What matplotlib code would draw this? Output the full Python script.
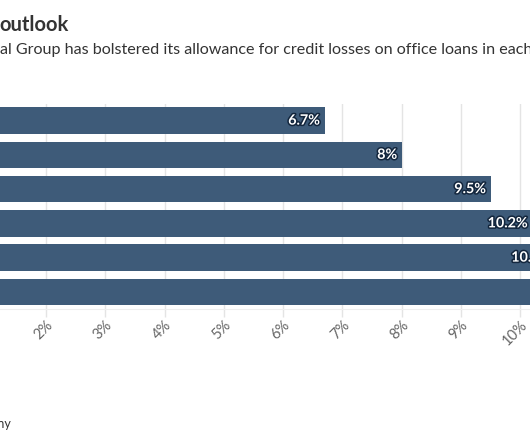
import matplotlib
matplotlib.use('Agg')
import matplotlib.pyplot as plt
import matplotlib.patheffects as pe
from matplotlib.ticker import FuncFormatter

# allowance for credit losses on office loans, % of office loans
quarters = ['Q1 2023', 'Q2 2023', 'Q3 2023', 'Q4 2023', 'Q1 2024', 'Q2 2024']
coverage = [6.7, 8.0, 9.5, 10.2, 10.6, 11.3]
value_labels = ['6.7%', '8%', '9.5%', '10.2%', '10.6%', '11.3%']
x_ticks = [0, 1, 2, 3, 4, 5, 6, 7, 8, 9, 10, 11]

W, H = 530, 442
BAR = '#3e5b79'
GRID = '#e4e4e4'
TEXT = '#333333'

plt.rcParams['font.family'] = ['Lato', 'DejaVu Sans']

fig = plt.figure(figsize=(W / 100, H / 100), dpi=100)

# the plot area runs past both edges of the picture
left_px, px_per_pct = -72.6, 59.3
xmax = 12
top_px, bottom_px = 103.5, 309
ax = fig.add_axes([left_px / W, 1 - bottom_px / H,
                   xmax * px_per_pct / W, (bottom_px - top_px) / H])

ypos = list(range(len(quarters)))
ax.barh(ypos, coverage, height=0.78, color=BAR, zorder=2)
ax.set_xlim(0, xmax)
ax.set_ylim(len(quarters) - 0.5, -0.5)

for y, v, lab in zip(ypos, coverage, value_labels):
    ax.annotate(lab, (v, y), xytext=(-3.5, 0), textcoords='offset points',
                ha='right', va='center', color='white', fontsize=10.3,
                fontweight='bold', zorder=3,
                path_effects=[pe.withStroke(linewidth=2.2, foreground='#13263d')])

ax.set_xticks(x_ticks)
ax.xaxis.set_major_formatter(FuncFormatter(lambda v, p: '{:g}%'.format(v)))
ax.set_yticks(ypos)
ax.set_yticklabels(quarters)
ax.grid(axis='x', color=GRID, linewidth=1, zorder=0)
ax.tick_params(axis='x', length=5.5, width=1, color=GRID, pad=1,
               labelsize=10.5, labelcolor='#666666')
ax.tick_params(axis='y', length=0)
for lbl in ax.get_xticklabels():
    lbl.set_rotation(45)
    lbl.set_ha('right')
    lbl.set_va('top')
    lbl.set_rotation_mode('anchor')
for s in ['top', 'right', 'left']:
    ax.spines[s].set_visible(False)
ax.spines['bottom'].set_color('#efefef')

fig.text(-1 / W, 1 - 31 / H, 'outlook', fontsize=14.5, fontweight='bold',
         color=TEXT, ha='left', va='baseline')
fig.text(-0.5 / W, 1 - 54.3 / H,
         'al Group has bolstered its allowance for credit losses on office loans in each quarter',
         fontsize=11.6, color=TEXT, ha='left', va='baseline')
fig.text(10.5 / W, 1 - 428 / H, 'Source: Company', fontsize=9, color=TEXT,
         ha='right', va='baseline')

fig.savefig('out.png', dpi=100)
